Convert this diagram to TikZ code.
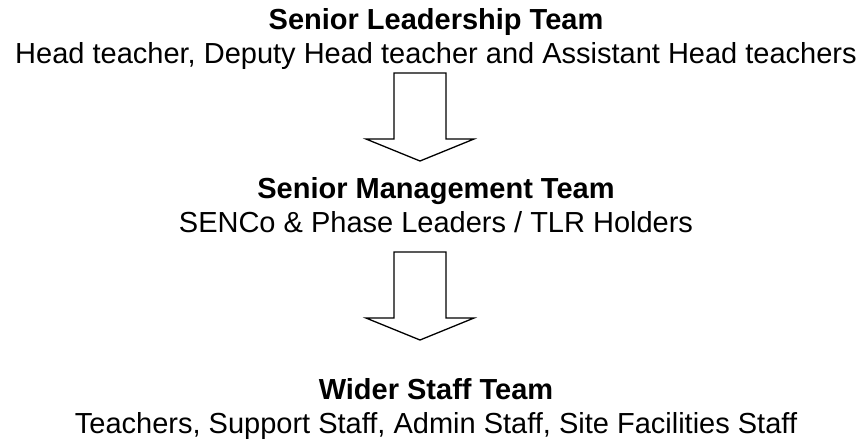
\documentclass[tikz,border=0pt]{standalone}
\usepackage{fontspec}
\setmainfont{Liberation Sans}

\begin{document}
\begin{tikzpicture}[x=0.5pt, y=-0.5pt,
    teamtitle/.style={font=\fontsize{14.5}{17}\selectfont\bfseries, anchor=base, inner sep=0pt},
    members/.style={font=\fontsize{14.5}{17}\selectfont, anchor=base, inner sep=0pt},
    blockarrow/.style={draw, line width=0.65pt, fill=white, line join=miter}
  ]
  \useasboundingbox (0,0) rectangle (865,441);

  % Ebenen
  \node[teamtitle] (slt) at (436,29) {Senior Leadership Team};
  \node[members] (sltmembers) at (436,63) {Head teacher, Deputy Head teacher and Assistant Head teachers};

  \node[teamtitle] (smt) at (436,198) {Senior Management Team};
  \node[members] (smtmembers) at (436,232) {SENCo \& Phase Leaders / TLR Holders};

  \node[teamtitle] (wst) at (436,399) {Wider Staff Team};
  \node[members] (wstmembers) at (436,433) {Teachers, Support Staff, Admin Staff, Site Facilities Staff};

  % Blockpfeile
  \coordinate (arrowA) at (420,73);
  \coordinate (arrowB) at (420,252);
  \foreach \a in {arrowA, arrowB} {
    \draw[blockarrow] (\a) ++(-26,0) -- ++(52,0) -- ++(0,66) -- ++(28,0)
      -- ++(-54,22) -- ++(-54,-22) -- ++(28,0) -- cycle;
  }
\end{tikzpicture}
\end{document}
